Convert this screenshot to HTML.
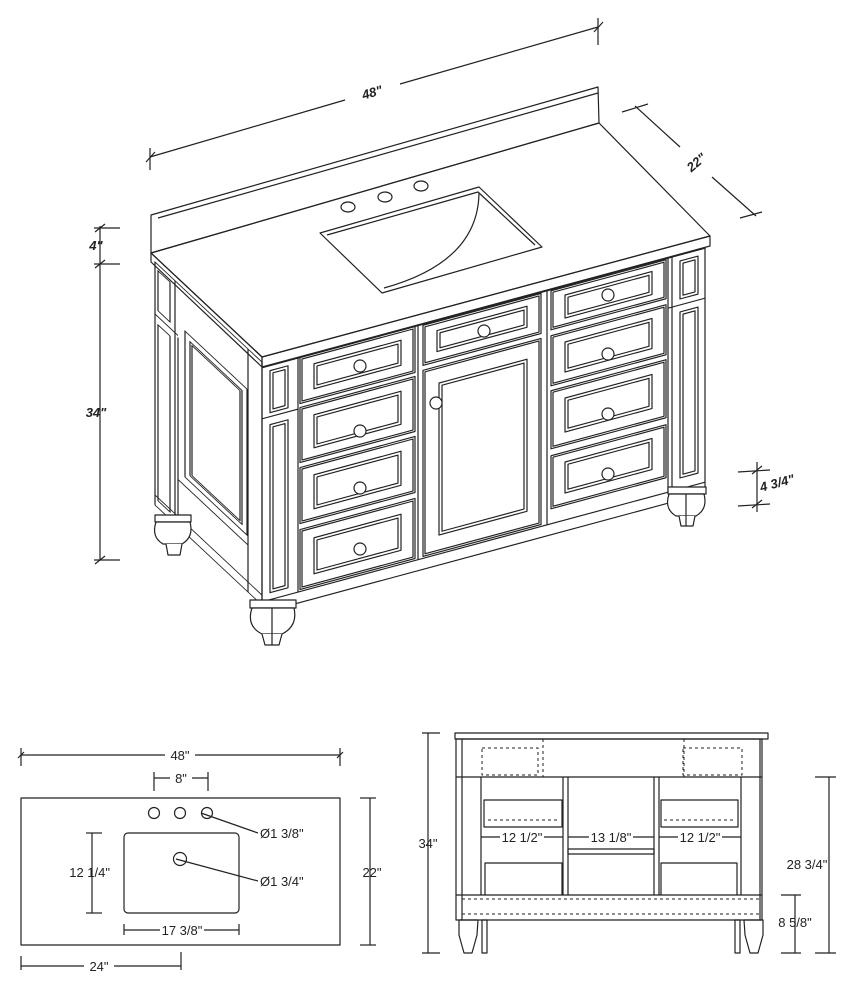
<!DOCTYPE html>
<html><head><meta charset="utf-8"><style>
html,body{margin:0;padding:0;background:#fff;}
svg{display:block;}
text{font-family:"Liberation Sans",sans-serif;fill:#222;}
</style></head><body>
<svg width="868" height="990" viewBox="0 0 868 990" xmlns="http://www.w3.org/2000/svg">
<g fill="none" stroke="#222" stroke-width="1.2" stroke-linejoin="round">

<!-- 48 dim -->
<line x1="150" y1="157" x2="345" y2="100"/><line x1="400" y1="84" x2="598" y2="27"/>
<line x1="150" y1="148" x2="150" y2="170"/><line x1="146" y1="162" x2="155" y2="152"/>
<line x1="598" y1="18" x2="598" y2="45"/><line x1="594" y1="32" x2="603" y2="22"/>
<!-- 22 dim -->
<line x1="635" y1="106" x2="680" y2="147"/><line x1="712" y1="177" x2="756" y2="216"/>
<line x1="622" y1="112" x2="648" y2="104"/><line x1="740" y1="218" x2="762" y2="212"/>
<!-- 34 / 4 dims -->
<line x1="100" y1="226" x2="100" y2="560"/>
<line x1="94" y1="228" x2="120" y2="228"/><line x1="95" y1="232" x2="105" y2="224"/>
<line x1="94" y1="264" x2="120" y2="264"/><line x1="95" y1="268" x2="105" y2="260"/>
<line x1="94" y1="560" x2="120" y2="560"/><line x1="95" y1="564" x2="105" y2="556"/>
<!-- 4 3/4 dim -->
<line x1="757" y1="462" x2="757" y2="512"/>
<line x1="738" y1="472" x2="770" y2="470"/><line x1="752" y1="474" x2="762" y2="466"/>
<line x1="738" y1="506" x2="770" y2="504"/><line x1="752" y1="508" x2="762" y2="500"/>

<!-- backsplash -->
<polygon points="151,215 598,87 599,123 151,253"/>
<line x1="158" y1="218" x2="598" y2="93"/>
<!-- countertop -->
<polygon points="151,253 599,123 710,236 262,357"/>
<polygon points="262,357 710,236 710,246 262,367"/>
<polygon points="151,253 262,357 262,367 151,262"/>
<!-- sink -->
<polygon points="320,233 479,187 542,247 382,293"/>
<polyline points="327,235 478,192 535,245"/>
<path d="M479,193 Q478,262 384,288"/>
<ellipse cx="348" cy="207" rx="7" ry="5"/>
<ellipse cx="385" cy="197" rx="7" ry="5"/>
<ellipse cx="421" cy="186" rx="7" ry="5"/>

<!-- side face (sheared) -->
<g transform="matrix(1,0.936,0,1,0,-145.1)">
<rect x="155" y="262" width="107" height="243"/>
<rect x="158" y="268" width="12" height="40"/>
<rect x="158" y="322" width="12" height="176"/>
<line x1="175" y1="262" x2="175" y2="505"/>
<line x1="178" y1="316" x2="178" y2="505"/>
<line x1="155" y1="314" x2="178" y2="314"/>
<rect x="185" y="303" width="62" height="146"/>
<rect x="190" y="309" width="52" height="134"/>
<rect x="192" y="311" width="48" height="130"/>
<line x1="248" y1="262" x2="248" y2="505"/>
<line x1="178" y1="458" x2="248" y2="458"/>
<line x1="155" y1="495" x2="262" y2="495"/>
</g>

<!-- front face (sheared) -->
<g transform="matrix(1,-0.27,0,1,0,71.55)">
<rect x="262" y="367" width="443" height="245"/>
<line x1="262" y1="601" x2="705" y2="601"/>
<line x1="298" y1="367" x2="298" y2="601"/>
<rect x="270" y="372" width="18" height="42"/>
<rect x="273" y="375" width="12" height="36"/>
<line x1="262" y1="418" x2="298" y2="418"/>
<rect x="270" y="426" width="18" height="168"/>
<rect x="273" y="429" width="12" height="162"/>
<line x1="668" y1="367" x2="668" y2="601"/>
<line x1="672" y1="367" x2="672" y2="601"/>
<rect x="680" y="373" width="18" height="38"/>
<rect x="683" y="376" width="12" height="32"/>
<line x1="668" y1="417" x2="705" y2="417"/>
<rect x="680" y="424" width="18" height="166"/>
<rect x="683" y="427" width="12" height="160"/>
<line x1="418" y1="367" x2="418" y2="601"/>
<line x1="547" y1="367" x2="547" y2="601"/>
<!-- left column drawers -->
<rect x="300" y="367" width="115" height="46"/><rect x="302" y="369" width="111" height="42"/>
<rect x="314" y="377" width="87" height="25"/><rect x="317" y="380" width="81" height="19"/>
<rect x="300" y="417" width="115" height="55"/><rect x="302" y="419" width="111" height="51"/>
<rect x="314" y="428" width="87" height="33"/><rect x="317" y="431" width="81" height="27"/>
<rect x="300" y="477" width="115" height="56"/><rect x="302" y="479" width="111" height="52"/>
<rect x="314" y="488" width="87" height="34"/><rect x="317" y="491" width="81" height="28"/>
<rect x="300" y="539" width="115" height="60"/><rect x="302" y="541" width="111" height="56"/>
<rect x="314" y="551" width="87" height="36"/><rect x="317" y="554" width="81" height="30"/>
<!-- middle -->
<rect x="423" y="368" width="118" height="40"/><rect x="425" y="370" width="114" height="36"/>
<rect x="437" y="377" width="90" height="21"/><rect x="440" y="380" width="84" height="15"/>
<rect x="423" y="413" width="118" height="186"/><rect x="425" y="415" width="114" height="182"/>
<rect x="439" y="430" width="88" height="152"/><rect x="442" y="433" width="82" height="146"/>
<!-- right column -->
<rect x="551" y="368" width="115" height="39"/><rect x="553" y="370" width="111" height="35"/>
<rect x="565" y="376" width="87" height="23"/><rect x="568" y="379" width="81" height="17"/>
<rect x="551" y="413" width="115" height="50"/><rect x="553" y="415" width="111" height="46"/>
<rect x="565" y="423" width="87" height="30"/><rect x="568" y="426" width="81" height="24"/>
<rect x="551" y="468" width="115" height="58"/><rect x="553" y="470" width="111" height="54"/>
<rect x="565" y="479" width="87" height="34"/><rect x="568" y="482" width="81" height="28"/>
<rect x="551" y="533" width="115" height="53"/><rect x="553" y="535" width="111" height="49"/>
<rect x="565" y="543" width="87" height="31"/><rect x="568" y="546" width="81" height="25"/>
</g>
<g fill="#fff">
<circle cx="360" cy="366" r="6"/><circle cx="360" cy="431" r="6"/><circle cx="360" cy="488" r="6"/><circle cx="360" cy="549" r="6"/>
<circle cx="484" cy="331" r="6"/><circle cx="436" cy="403" r="6"/>
<circle cx="608" cy="295" r="6"/><circle cx="608" cy="354" r="6"/><circle cx="608" cy="414" r="6"/><circle cx="608" cy="474" r="6"/>
</g>
<!-- feet -->
<g fill="#fff">
<rect x="250" y="600" width="46" height="8"/>
<path d="M252,608 Q246,626 262,634 L282,634 Q298,626 294,608 Z"/>
<path d="M262,634 L265,645 L279,645 L282,634"/>
<line x1="272" y1="608" x2="272" y2="645"/>
<rect x="155" y="515" width="36" height="7"/>
<path d="M156,522 Q151,537 163,544 L182,544 Q194,537 190,522 Z"/>
<path d="M166,544 L168,555 L180,555 L182,544"/>
<rect x="668" y="487" width="38" height="7"/>
<path d="M669,494 Q664,509 676,516 L696,516 Q708,509 704,494 Z"/>
<path d="M679,516 L681,526 L693,526 L695,516"/>
<line x1="686" y1="494" x2="686" y2="526"/>
</g>

<!-- PLAN VIEW -->
<line x1="21" y1="755" x2="340" y2="755"/>
<line x1="21" y1="748" x2="21" y2="766"/><line x1="340" y1="748" x2="340" y2="766"/>
<line x1="18" y1="758" x2="24" y2="752"/><line x1="337" y1="758" x2="343" y2="752"/>
<line x1="154" y1="778" x2="208" y2="778"/>
<line x1="154" y1="772" x2="154" y2="791"/><line x1="208" y1="772" x2="208" y2="791"/>
<rect x="21" y="798" width="319" height="147"/>
<circle cx="154" cy="813" r="5.5"/><circle cx="180" cy="813" r="5.5"/><circle cx="207" cy="813" r="5.5"/>
<line x1="201" y1="813" x2="258" y2="833"/>
<rect x="124" y="833" width="115" height="80" rx="4"/>
<circle cx="180" cy="859" r="6.5"/>
<line x1="176" y1="859" x2="258" y2="881"/>
<line x1="92" y1="833" x2="92" y2="913"/>
<line x1="86" y1="833" x2="102" y2="833"/><line x1="86" y1="913" x2="102" y2="913"/>
<line x1="124" y1="930" x2="239" y2="930"/>
<line x1="124" y1="924" x2="124" y2="935"/><line x1="239" y1="924" x2="239" y2="935"/>
<line x1="370" y1="798" x2="370" y2="945"/>
<line x1="360" y1="798" x2="376" y2="798"/><line x1="360" y1="945" x2="376" y2="945"/>
<line x1="21" y1="966" x2="181" y2="966"/>
<line x1="21" y1="956" x2="21" y2="970"/><line x1="181" y1="952" x2="181" y2="970"/>

<!-- FRONT ELEVATION -->
<rect x="455" y="733" width="313" height="6"/>
<rect x="456" y="739" width="306" height="181"/>
<line x1="462" y1="739" x2="462" y2="920"/><line x1="760" y1="739" x2="760" y2="920"/>
<line x1="456" y1="777" x2="762" y2="777"/>
<line x1="456" y1="895" x2="762" y2="895"/>
<line x1="563" y1="777" x2="563" y2="895"/><line x1="568" y1="777" x2="568" y2="895"/>
<line x1="654" y1="777" x2="654" y2="895"/><line x1="659" y1="777" x2="659" y2="895"/>
<line x1="481" y1="777" x2="481" y2="895"/><line x1="741" y1="777" x2="741" y2="895"/>
<rect x="484" y="800" width="78" height="27"/><rect x="661" y="800" width="77" height="27"/>
<rect x="568" y="849" width="86" height="5"/>
<polyline points="485,895 485,863 562,863 562,895"/><polyline points="661,895 661,863 737,863 737,895"/>
<line x1="481" y1="837" x2="563" y2="837"/><line x1="568" y1="837" x2="654" y2="837"/><line x1="659" y1="837" x2="741" y2="837"/>
<g stroke-dasharray="3,3" stroke-width="1">
<rect x="482" y="748" width="56" height="27"/><rect x="683" y="748" width="59" height="27"/>
<line x1="543" y1="739" x2="543" y2="777"/><line x1="684" y1="739" x2="684" y2="777"/>
<line x1="462" y1="899" x2="760" y2="899"/><line x1="462" y1="914" x2="760" y2="914"/>
<line x1="488" y1="820" x2="558" y2="820"/><line x1="664" y1="820" x2="734" y2="820"/>
</g>
<path d="M459,920 L478,920 L477,935 L472,953 L464,953 L459,935 Z"/>
<path d="M744,920 L763,920 L763,935 L758,953 L750,953 L745,935 Z"/>
<rect x="482" y="920" width="5" height="33"/><rect x="735" y="920" width="5" height="33"/>
<line x1="428" y1="733" x2="428" y2="953"/>
<line x1="422" y1="733" x2="440" y2="733"/><line x1="422" y1="953" x2="440" y2="953"/>
<line x1="829" y1="777" x2="829" y2="953"/>
<line x1="815" y1="777" x2="836" y2="777"/><line x1="815" y1="953" x2="836" y2="953"/>
<line x1="795" y1="895" x2="795" y2="953"/>
<line x1="781" y1="895" x2="801" y2="895"/><line x1="781" y1="953" x2="801" y2="953"/>
</g>

<g font-size="13" font-style="italic" font-weight="bold">
<text x="372" y="97" text-anchor="middle" transform="rotate(-16 372 92)">48"</text>
<text x="696" y="167" text-anchor="middle" transform="rotate(-40 696 162)">22"</text>
<text x="96" y="250" text-anchor="middle">4"</text>
<text x="96" y="417" text-anchor="middle">34"</text>
<text x="760" y="492" text-anchor="start" transform="rotate(-15 760 487)">4 3/4"</text>
</g>
<g font-size="13">
<rect x="165" y="746" width="30" height="16" fill="#fff"/>
<text x="180" y="760" text-anchor="middle">48"</text>
<rect x="170" y="770" width="22" height="16" fill="#fff"/>
<text x="181" y="783" text-anchor="middle">8"</text>
<text x="260" y="838">Ø1 3/8"</text>
<text x="260" y="886">Ø1 3/4"</text>
<text x="110" y="877" text-anchor="end">12 1/4"</text>
<rect x="160" y="922" width="44" height="16" fill="#fff"/>
<text x="182" y="935" text-anchor="middle">17 3/8"</text>
<text x="372" y="877" text-anchor="middle">22"</text>
<rect x="84" y="958" width="30" height="16" fill="#fff"/>
<text x="99" y="971" text-anchor="middle">24"</text>
<text x="428" y="848" text-anchor="middle">34"</text>
<rect x="500" y="829" width="44" height="16" fill="#fff"/>
<text x="522" y="842" text-anchor="middle">12 1/2"</text>
<rect x="589" y="829" width="44" height="16" fill="#fff"/>
<text x="611" y="842" text-anchor="middle">13 1/8"</text>
<rect x="678" y="829" width="44" height="16" fill="#fff"/>
<text x="700" y="842" text-anchor="middle">12 1/2"</text>
<text x="807" y="869" text-anchor="middle">28 3/4"</text>
<text x="795" y="927" text-anchor="middle">8 5/8"</text>
</g>
</svg>
</body></html>
